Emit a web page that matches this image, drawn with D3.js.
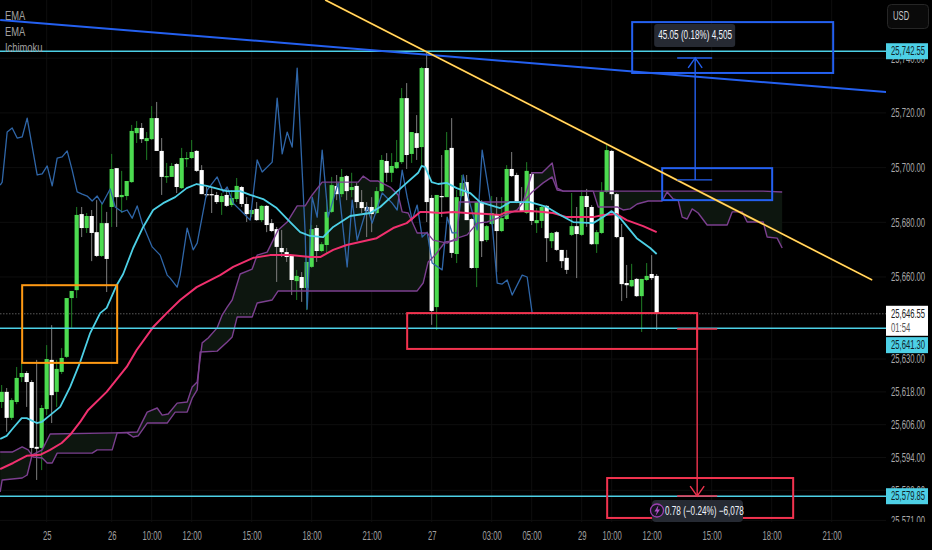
<!DOCTYPE html>
<html><head><meta charset="utf-8">
<script src="https://cdn.jsdelivr.net/npm/d3@7"></script>
<style>
html,body{margin:0;padding:0;background:#000;overflow:hidden}
svg{display:block}
text{font-family:"Liberation Sans",sans-serif}
</style></head><body>
<svg id="c" width="932" height="550"></svg>
<script>
// ---- OHLC, one entry per bar ----
const opens=[25614.3,25618.0,25608.5,25614.3,25623.4,25624.9,25621.6,25597.9,25597.5,25611.7,
25629.7,25618.0,25625.3,25630.8,25652.3,25655.2,25683.0,25677.9,25682.3,25676.4,
25667.7,25679.7,25685.6,25699.8,25689.2,25689.6,25694.7,25712.6,25714.5,25709.7,
25710.4,25718.1,25706.1,25696.6,25696.6,25701.3,25692.5,25703.1,25703.5,25706.1,
25699.1,25690.3,25690.3,25690.0,25687.4,25690.0,25686.3,25688.5,25692.9,25686.7,
25683.0,25684.9,25680.8,25686.0,25679.7,25677.5,25670.6,25669.1,25667.7,25658.5,
25660.0,25656.0,25663.7,25677.9,25669.5,25671.7,25683.8,25693.3,25690.3,25696.9,
25691.8,25693.3,25687.4,25685.6,25685.6,25683.4,25691.4,25702.4,25698.1,25699.8,
25702.0,25725.4,25705.0,25712.6,25707.5,25736.4,25688.9,25649.0,25689.6,25689.2,
25707.2,25668.4,25689.6,25694.7,25681.2,25663.3,25687.4,25673.5,25679.4,25683.0,
25676.8,25681.2,25699.5,25697.3,25687.4,25683.4,25697.7,25679.7,25680.5,25686.0,
25673.1,25676.4,25669.9,25667.0,25675.4,25678.6,25675.4,25689.6,25685.6,25672.0,
25676.1,25691.1,25706.1,25690.3,25674.6,25657.8,25656.6,25659.3,25653.0,25658.9,
25661.1,25660.4];
const closes=[25618.0,25608.5,25615.0,25623.1,25624.9,25621.6,25597.5,25597.2,25612.1,25630.0,
25616.8,25626.4,25630.4,25652.3,25654.9,25682.7,25677.9,25682.3,25676.1,25667.7,
25679.7,25666.6,25699.5,25689.2,25690.0,25695.1,25713.4,25714.5,25710.4,25710.8,
25718.1,25706.1,25696.6,25696.9,25700.6,25692.9,25703.5,25703.5,25705.7,25698.8,
25690.3,25690.0,25690.0,25687.4,25689.6,25686.0,25688.9,25693.3,25686.7,25683.0,
25684.5,25680.8,25686.0,25679.0,25676.8,25671.0,25669.1,25667.3,25658.9,25660.4,
25656.0,25665.5,25677.5,25669.5,25672.0,25683.8,25693.6,25690.3,25696.6,25691.4,
25692.9,25687.4,25685.2,25684.1,25683.0,25691.4,25702.8,25698.1,25700.6,25702.0,
25725.4,25704.6,25713.0,25707.2,25736.4,25687.4,25647.6,25690.0,25689.2,25706.4,
25668.8,25689.2,25694.4,25680.8,25663.3,25687.4,25673.1,25678.6,25683.4,25676.8,
25681.5,25699.5,25696.9,25687.4,25684.1,25698.8,25680.5,25680.8,25685.6,25674.2,
25676.1,25669.9,25665.8,25662.6,25678.6,25675.7,25689.6,25685.6,25672.0,25676.4,
25691.1,25706.4,25690.3,25674.6,25657.4,25657.0,25658.9,25653.0,25659.3,25660.4,
25659.6,25646.55];
const highs=[25620.5,25619.4,25615.7,25627.1,25629.7,25625.6,25622.3,25629.7,25613.2,25635.1,
25642.4,25629.7,25634.0,25652.3,25654.9,25685.6,25685.6,25683.4,25684.5,25688.1,
25687.0,25683.8,25705.0,25699.8,25698.8,25695.1,25715.6,25717.0,25716.3,25713.0,
25722.5,25724.0,25710.8,25701.7,25701.7,25701.7,25707.2,25705.7,25710.1,25706.4,
25700.9,25692.9,25692.5,25691.1,25690.7,25692.5,25691.8,25696.2,25693.3,25689.2,
25684.9,25687.4,25686.3,25686.3,25681.2,25678.3,25677.2,25670.6,25668.0,25662.6,
25661.8,25667.7,25679.0,25679.0,25672.8,25688.1,25696.6,25697.3,25699.5,25697.3,
25698.1,25694.4,25691.8,25687.4,25689.2,25692.9,25704.6,25705.3,25705.3,25710.1,
25729.1,25730.9,25713.0,25719.2,25736.8,25741.9,25690.0,25690.0,25704.6,25713.0,
25718.1,25691.8,25697.3,25697.3,25681.5,25687.4,25688.1,25679.0,25689.6,25689.2,
25689.2,25700.9,25705.7,25698.1,25692.9,25702.0,25698.4,25685.2,25686.0,25686.3,
25676.4,25676.8,25669.9,25669.9,25690.7,25685.6,25691.8,25692.2,25686.3,25677.2,
25694.7,25708.3,25706.4,25690.7,25679.4,25664.4,25664.8,25659.6,25659.3,25665.1,
25668.0,25661.1];
const lows=[25612.1,25603.4,25607.7,25613.5,25621.6,25612.5,25595.0,25585.8,25589.4,25609.5,
25606.6,25612.5,25624.5,25630.4,25641.4,25652.3,25674.6,25676.1,25665.8,25667.3,
25667.3,25654.5,25678.3,25678.3,25683.4,25688.1,25694.4,25709.0,25709.0,25702.8,
25710.1,25706.1,25690.0,25694.4,25696.6,25690.7,25692.2,25700.2,25703.1,25698.4,
25690.3,25689.2,25683.4,25686.7,25682.7,25685.6,25685.6,25687.4,25685.6,25680.1,
25681.9,25680.5,25680.1,25676.4,25676.4,25658.2,25667.3,25665.5,25653.4,25651.6,
25650.9,25647.9,25663.3,25665.5,25669.1,25668.8,25683.4,25688.1,25689.2,25688.1,
25689.2,25685.2,25683.4,25674.6,25676.4,25683.0,25691.1,25694.7,25694.7,25699.5,
25701.3,25699.5,25701.7,25702.8,25700.9,25680.1,25642.5,25640.6,25681.9,25689.2,
25667.0,25665.1,25689.2,25680.8,25663.0,25656.3,25667.3,25672.8,25679.0,25661.8,
25676.4,25680.8,25696.6,25687.0,25683.8,25683.0,25679.0,25676.1,25677.9,25665.5,
25670.6,25669.5,25663.3,25661.1,25675.0,25659.6,25675.0,25678.3,25671.7,25668.8,
25675.7,25690.7,25688.1,25674.2,25651.2,25652.3,25656.3,25652.7,25639.9,25658.5,
25658.9,25640.6];
// ---- indicator readings: bar position / price pairs ----
const emaFastBars=[-0.3,1,2.3,4,5,7,8,9.7,11.7,13.7,15.7,17.7,19.7,21,23,24.3,26.3,28.3,30.3,32.3,34.7,37,39,41,45,47.7,49.7,52.3,55,57.7,59.7,61.7,64.3,66.3,69.7,73.7,75.7,79,81,83.3,84,84.7,86,87.3,89,91,93.7,95.7,99.7,101.7,105.7,109,111.7,114.3,118.3,120.3,122,123.7,127,129.7,131];
const emaFastPrices=[25600.8,25601.9,25604.8,25608.4,25608.4,25606.6,25607.0,25609.5,25612.5,25619.8,25628.9,25639.5,25646.8,25648.7,25657.0,25661.1,25670.6,25678.3,25684.5,25687.0,25689.2,25692.5,25694.0,25693.3,25691.4,25691.4,25690.0,25688.5,25685.2,25680.1,25676.4,25675.0,25674.6,25678.3,25682.3,25683.4,25685.6,25691.1,25694.4,25698.1,25700.6,25700.2,25694.7,25694.0,25694.4,25692.5,25690.7,25687.4,25685.2,25687.4,25687.4,25685.6,25682.7,25680.1,25679.7,25681.9,25684.1,25681.5,25674.2,25670.6,25668.4];
const emaSlowBars=[-0.3,2.3,5,7.7,9.7,12,13.7,15.7,17.3,21,25,27,30.3,33,35.7,39,43.7,46.3,50.3,53.7,57.7,61.7,63.7,66.3,69,75,78.3,81,83.7,85,87.7,90.3,93,97,99.7,101,105.7,108.3,110.3,113,118.3,120.3,123,125,128.3,131];
const emaSlowPrices=[25589.8,25592.0,25594.6,25595.0,25596.8,25599.3,25602.3,25607.0,25611.4,25618.0,25627.1,25633.3,25641.7,25646.8,25651.6,25656.3,25660.7,25663.7,25667.0,25668.0,25668.0,25667.3,25667.3,25669.9,25671.7,25674.2,25677.9,25679.7,25683.8,25683.8,25683.4,25683.8,25683.4,25683.0,25682.7,25683.8,25684.1,25683.8,25683.4,25681.9,25681.9,25682.7,25683.0,25680.8,25678.6,25676.4];
const spanABars=[-0.3,0.1,4.1,5.1,6.1,8.1,9.7,22.7,27.1,29.1,31.1,32.1,33.3,35.1,37.1,38.1,39.1,40.1,41.3,43.1,44.1,45.1,46.1,47.7,50.1,51.1,53.1,55.3,57.1,59.1,60.7,61.7,62.1,64.1,71.3,72.3,73.7,75.3,77.7,79.3,80.1,81.3,83.1,85.1,86.3,89.1,91.1,93.1,95.1,97.1,99.7,103.1,104.3,106.1,108.3,110.1,111.1,112.3,118.3,119.3,123.1,124.3,125.7,127.1,129.3,132.1,133.1,134.3,135.3,136.1,137.1,138.1,139.3,141.1,145.1,146.1,148.1,149.1,152.3,153.1,155.1,156.1];
const spanAPrices=[25581.4,25585.8,25586.5,25587.6,25595.0,25596.8,25602.6,25603.0,25603.3,25610.6,25612.1,25609.5,25609.9,25613.9,25614.3,25619.8,25621.6,25635.9,25637.7,25641.4,25646.1,25649.0,25651.6,25661.1,25662.9,25668.0,25669.1,25677.2,25680.1,25686.0,25686.0,25688.9,25690.0,25694.7,25694.7,25696.9,25695.1,25695.1,25692.9,25690.0,25683.8,25683.4,25676.1,25676.1,25673.5,25672.4,25674.2,25675.4,25679.7,25680.1,25681.9,25684.5,25687.4,25691.1,25694.4,25696.6,25691.8,25691.4,25691.4,25685.6,25685.6,25684.5,25684.9,25686.7,25687.8,25687.8,25691.1,25688.5,25688.1,25681.9,25681.2,25684.9,25683.4,25679.0,25679.0,25683.8,25683.8,25680.1,25680.1,25674.6,25674.2,25670.6];
const spanBBars=[-0.3,2.1,4.1,5.3,6.3,8.1,9.1,10.1,11.1,18.1,19.1,22.1,23.1,25.1,26.3,27.3,29.1,33.1,34.7,37.1,38.1,39.1,39.7,43.1,45.1,46.1,47.1,50.1,51.1,54.1,55.3,83.1,84.3,85.3,86.7,88.7,91.1,91.5,104.3,106.1,108.1,110.1,111.1,112.3,152.3,156.1];
const spanBPrices=[25596.0,25596.0,25597.9,25596.8,25594.2,25593.8,25592.0,25592.0,25595.6,25595.6,25596.8,25596.8,25603.0,25603.0,25601.5,25601.9,25606.6,25606.6,25610.6,25610.6,25615.7,25618.7,25632.6,25632.9,25636.2,25638.1,25645.4,25645.4,25650.5,25651.6,25654.9,25654.9,25657.8,25665.5,25668.0,25672.8,25673.5,25687.4,25687.4,25698.1,25698.1,25701.7,25692.5,25691.4,25691.4,25691.1];
const laggingBars=[-0.3,0.1,1.1,2.1,3.1,4.1,5.1,7.1,8.1,9.1,10.1,11.1,12.1,13.1,14.1,15.1,16.1,17.1,18.1,19.1,20.1,21.7,22.7,24.1,25.1,26.1,27.1,28.1,30.1,31.7,33.1,33.7,35.1,35.7,37.1,38.3,39.1,41.1,43.1,44.3,45.1,46.3,48.3,49.7,51.1,52.1,54.1,55.1,56.1,57.1,58.1,59.1,60.7,61.1,62.1,63.1,64.1,65.3,67.3,69.1,70.1,71.1,73.1,74.1,76.1,78.1,79.1,80.1,81.1,82.1,83.1,84.1,85.1,86.1,88.1,89.1,90.1,91.1,92.3,93.3,95.1,96.1,97.7,99.1,100.1,101.1,102.1,104.1,105.1,106.1];
const laggingPrices=[25693.6,25694.7,25713.0,25714.5,25710.8,25711.2,25718.1,25697.3,25697.7,25700.6,25693.3,25703.5,25703.9,25706.1,25699.1,25691.1,25690.3,25689.6,25687.8,25689.6,25686.7,25692.2,25685.6,25683.8,25684.5,25681.5,25686.0,25679.7,25671.0,25668.0,25660.7,25659.6,25656.3,25660.7,25677.9,25669.9,25672.4,25691.8,25696.6,25691.1,25692.9,25687.0,25683.4,25680.8,25702.8,25698.4,25702.0,25725.4,25705.0,25713.0,25707.5,25736.4,25676.1,25648.3,25689.2,25681.9,25706.4,25681.9,25694.4,25663.7,25688.1,25673.5,25685.6,25679.7,25690.7,25687.0,25684.5,25699.1,25689.2,25680.8,25686.3,25674.6,25676.4,25665.1,25662.6,25681.9,25676.1,25676.1,25697.3,25689.2,25677.2,25706.4,25688.1,25657.8,25657.4,25658.9,25653.4,25660.7,25660.0,25646.8];
// ---- axes ----
const priceTicks=[25740,25720,25700,25680,25660,25630,25618,25606,25594,25582,25571];
const timeTickBars=[9,22,30,38,50,62,74,86,98,106,116,122,130,142,154,166];
const timeTickLabels=["25","26","10:00","12:00","15:00","18:00","21:00","27","03:00","05:00","29","10:00","12:00","15:00","18:00","21:00"];
const legendNames=["EMA","EMA","Ichimoku"];
// ---- horizontal levels and price tags ----
const levelPrices=[25742.55,25641.30,25579.85];
const lastPrice=25646.55, countdown="01:54";
// ---- drawings, as [bar, price] anchors ----
const orangeBox=[4.1,23.1,25657.0,25628.6];
const blueBoxes=[[126.1,166.3,25753.2,25734.6],[132.1,154.1,25699.8,25688.1]];
const redBoxes=[[81.1,139.1,25646.8,25633.7],[121.1,158.3,25586.5,25571.9]];
const yellowTrend=[[64.7,25761.3],[174.1,25658.9]];
const blueTrend=[[-0.3,25754.0],[176.9,25727.6]];
const longArrow={bar:138.7,from:25695.5,to:25740.1,capL:135.1,capR:142.1};
const shortArrow={bar:139.1,from:25641.0,to:25579.9,capL:135.1,capR:143.1};
const longLabel="45.05 (0.18%) 4,505", shortLabel="0.78 (\u22120.24%) \u22126,078";

const W=932,H=550,paneW=886,paneH=522;
const GREEN="#4cdb50",GREENW="#1f7d25",WHITE="#ffffff",WHITEW="#7d7d7d";
const CYAN="#4dd0e6",PINK="#f0306e",PURPLE="#7b3f8f",LAG="#2f66a8",BLUE="#2460f0",RED="#f2334f",ORANGE="#ff9a14";
const svg=d3.select("#c");
const x=d3.scaleLinear().domain([0,131]).range([1.67,656.67]);
const y=d3.scaleLinear().domain([25761.28,25570.42]).range([0,522]);
svg.append("rect").attr("width",W).attr("height",H).attr("fill","#000");
const defs=svg.append("defs");
defs.append("clipPath").attr("id","pane").append("rect").attr("width",paneW).attr("height",paneH);

const pane=svg.append("g").attr("clip-path","url(#pane)");
// grid
pane.append("g").selectAll("line").data(timeTickBars).join("line")
  .attr("x1",d=>x(d)).attr("x2",d=>x(d)).attr("y1",0).attr("y2",paneH).attr("stroke","#0e0e0e");
pane.append("g").selectAll("line").data(priceTicks).join("line")
  .attr("x1",0).attr("x2",paneW).attr("y1",d=>y(d)).attr("y2",d=>y(d)).attr("stroke","#0e0e0e");
// cloud
const zip=(a,b)=>a.map((d,i)=>[d,b[i]]);
const line=d3.line().x(d=>x(d[0])).y(d=>y(d[1]));
const spanA=zip(spanABars,spanAPrices),spanB=zip(spanBBars,spanBPrices);
pane.append("path").attr("d",line(spanA.concat(spanB.slice().reverse()))+"Z")
  .attr("fill","#0d160f").attr("fill-rule","evenodd");
// last price dotted line
pane.append("line").attr("x1",0).attr("x2",paneW).attr("y1",y(lastPrice)).attr("y2",y(lastPrice))
  .attr("stroke","#5a5a5a").attr("stroke-dasharray","1.5 1.5");
// candles
const bars=d3.range(opens.length).map(i=>({i,o:opens[i],c:closes[i],h:highs[i],l:lows[i],up:closes[i]>=opens[i]}));
const cg=pane.append("g");
cg.selectAll("line").data(bars).join("line")
  .attr("x1",d=>x(d.i)).attr("x2",d=>x(d.i)).attr("y1",d=>y(d.h)).attr("y2",d=>y(d.l))
  .attr("stroke",d=>d.up?GREENW:WHITEW).attr("stroke-width",1);
cg.selectAll("rect").data(bars).join("rect")
  .attr("x",d=>x(d.i)-2.1).attr("width",4.2)
  .attr("y",d=>y(Math.max(d.o,d.c))).attr("height",d=>Math.max(1.2,Math.abs(y(d.o)-y(d.c))))
  .attr("fill",d=>d.up?GREEN:WHITE);
// indicator lines
const addLine=(pts,col,w)=>pane.append("path").attr("d",line(pts)).attr("fill","none").attr("stroke",col).attr("stroke-width",w).attr("stroke-linejoin","round");
addLine(zip(laggingBars,laggingPrices),LAG,1.3);
addLine(spanA,PURPLE,1.4);
addLine(spanB,PURPLE,1.4);
addLine(zip(emaSlowBars,emaSlowPrices),PINK,2);
addLine(zip(emaFastBars,emaFastPrices),CYAN,1.8);
// levels
pane.append("g").selectAll("line").data(levelPrices).join("line")
  .attr("x1",0).attr("x2",paneW).attr("y1",d=>y(d)).attr("y2",d=>y(d)).attr("stroke",CYAN).attr("stroke-width",1.5);
// boxes
const box=(b,col)=>pane.append("rect").attr("x",x(b[0])).attr("width",x(b[1])-x(b[0])).attr("y",y(b[2])).attr("height",y(b[3])-y(b[2])).attr("fill","none").attr("stroke",col).attr("stroke-width",2);
box(orangeBox,ORANGE);
blueBoxes.forEach(b=>box(b,BLUE));
redBoxes.forEach(b=>box(b,RED));
// trend lines
addLine(blueTrend,BLUE,2);
addLine(yellowTrend,"#ffb627",1.8);
addLine(yellowTrend,"#fff0a0",0.7);
// arrows
function arrow(a,col){
  const g=pane.append("g").attr("stroke",col).attr("fill","none").attr("stroke-width",1.4);
  g.append("path").attr("d",line([[a.bar,a.from],[a.bar,a.to]]));
  g.append("path").attr("d",line([[a.capL,a.from],[a.capR,a.from]])).attr("stroke-width",1.4);
  g.append("path").attr("d",line([[a.capL,a.to],[a.capR,a.to]])).attr("stroke-width",1.4);
  const dir=a.to>a.from?1:-1, tx=x(a.bar), ty=y(a.to);
  g.append("path").attr("d",d3.line()([[tx-7,ty+dir*10],[tx,ty],[tx+7,ty+dir*10]]));
}
arrow(longArrow,BLUE);
arrow(shortArrow,RED);
// long / short labels
const lg=pane.append("g");
lg.append("rect").attr("x",x(longArrow.bar)-41).attr("y",24).attr("width",81).attr("height",23).attr("rx",3).attr("fill","#262a33");
lg.append("text").attr("x",x(longArrow.bar)).attr("y",39.5).attr("text-anchor","middle").attr("fill","#f0f3fa").attr("font-size",12).attr("data-fit",0.68).text(longLabel);
lg.append("rect").attr("x",652).attr("y",500).attr("width",91).attr("height",22).attr("rx",4).attr("fill","#262a33");
lg.append("text").attr("x",665).attr("y",515).attr("fill","#f0f3fa").attr("font-size",12).attr("data-fit",0.68).text(shortLabel);
lg.append("circle").attr("cx",657).attr("cy",510.5).attr("r",6.5).attr("fill","#151520").attr("stroke","#9c3fb0").attr("stroke-width",1.3);
lg.append("path").attr("d","M658.5 505 L654.5 511.5 L657 511.5 L655.5 516 L660 509.5 L657.5 509.5 Z").attr("fill","#b04fc8");
// legend
svg.append("g").selectAll("text").data(legendNames).join("text")
  .attr("x",5).attr("y",(d,i)=>20+i*16.2).attr("fill","#a0a0a0").attr("font-size",13).attr("data-fit",0.72).text(d=>d);
// price axis (ticks past the pane's bottom edge are trimmed by a black strip below)
const yAxis=d3.axisRight(y).tickValues(priceTicks).tickSize(0).tickPadding(0).tickFormat(d3.format(",.2f"));
const ya=svg.append("g").attr("transform",`translate(891,0)`).call(yAxis);
ya.select(".domain").remove();
ya.selectAll("text").attr("fill","#a8a8a8").attr("font-size",12).style("font-family",'"Liberation Sans",sans-serif');
svg.append("rect").attr("x",paneW).attr("y",paneH).attr("width",W-paneW).attr("height",H-paneH).attr("fill","#000");
// time axis
const xAxis=d3.axisBottom(x).tickValues(timeTickBars).tickSize(0).tickPadding(0).tickFormat((d,i)=>timeTickLabels[i]);
const xa=svg.append("g").attr("transform","translate(0,531)").call(xAxis);
xa.select(".domain").remove();
xa.selectAll("text").attr("fill","#a0a0a0").attr("font-size",12).style("font-family",'"Liberation Sans",sans-serif');
// price tags
const fmt=d3.format(",.2f");
const tags=svg.append("g");
tags.append("rect").attr("x",886).attr("y",y(lastPrice)-8).attr("width",42).attr("height",30).attr("fill","#fff");
tags.append("text").attr("x",891).attr("y",y(lastPrice)+4).attr("fill","#222").attr("font-size",12).text(fmt(lastPrice));
tags.append("text").attr("x",891).attr("y",y(lastPrice)+18).attr("fill","#555").attr("font-size",12).text(countdown);
levelPrices.forEach((p,i)=>{
  const yc=i===1?y(p)+17:y(p);
  tags.append("rect").attr("x",886).attr("y",yc-8).attr("width",42).attr("height",16).attr("fill",CYAN);
  tags.append("text").attr("x",891).attr("y",yc+4).attr("fill","#10252a").attr("font-size",12).text(fmt(p));
});
// USD button
svg.append("rect").attr("x",887.5).attr("y",4.5).attr("width",41).attr("height",24).attr("rx",4).attr("fill","#0a0a0a").attr("stroke","#262626");
svg.append("text").attr("x",893).attr("y",20).attr("fill","#c8c8c8").attr("font-size",12).text("USD");
// the reference's lettering is horizontally condensed: squeeze each text about its anchor
svg.selectAll("text").each(function(){
  const f=+this.getAttribute("data-fit")||0.64;
  const ax=+this.getAttribute("x")||0;
  this.setAttribute("transform",`translate(${ax} 0) scale(${f} 1) translate(${-ax} 0)`);
});
</script>
</body></html>
